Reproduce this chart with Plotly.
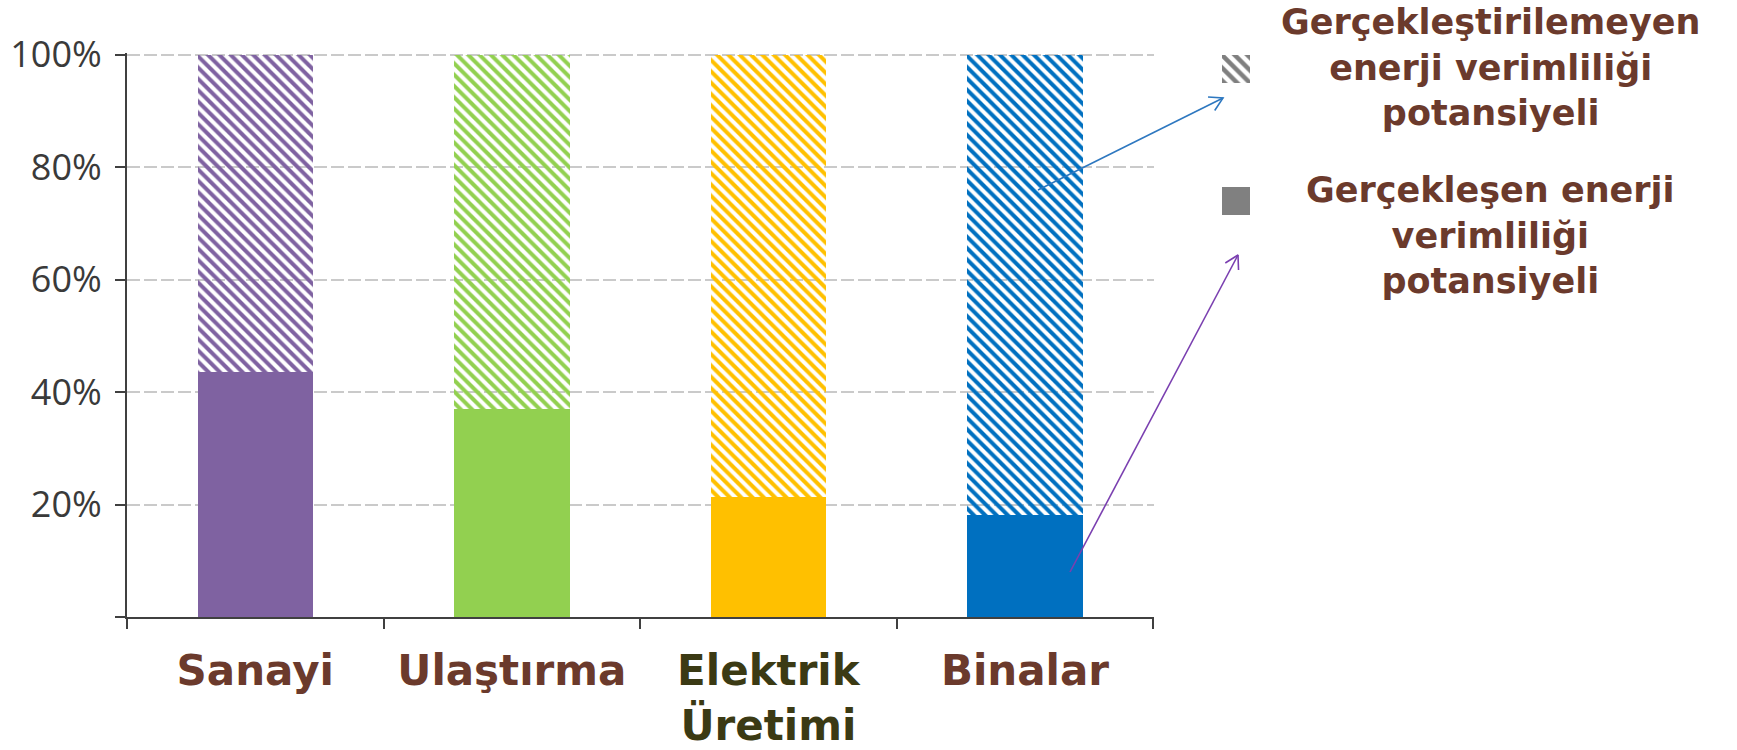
import math
import plotly.graph_objects as go

# ---- data ----
categories = ["Sanayi", "Ulaştırma", "Elektrik<br>Üretimi", "Binalar"]
category_colors_text = ["#6B3A2C", "#6B3A2C", "#3B3A14", "#6B3A2C"]
realized = [43.5, 37.0, 21.3, 18.1]          # Gerçekleşen (%)
total = [100, 100, 100, 100]
unrealized = [t - r for t, r in zip(total, realized)]
bar_colors = ["#7F62A1", "#92D050", "#FFC000", "#0070C0"]
stripe_bg = ["#F1ECF7", "#F1F9E8", "#FFF7DE", "#E6F1FA"]
y_tickvals = [0, 20, 40, 60, 80, 100]
y_ticktext = ["", "20%", "40%", "60%", "80%", "100%"]
legend_labels = ["Gerçekleştirilemeyen<br>enerji verimliliği<br>potansiyeli",
                 "Gerçekleşen enerji<br>verimliliği<br>potansiyeli"]

W, H = 1737, 750
PX0, PX1 = 127, 1154
PY0, PY1 = 53, 617

fig = go.Figure()

fig.add_trace(go.Bar(
    x=categories, y=realized, width=0.45,
    marker=dict(color=bar_colors, line=dict(width=0)),
    showlegend=False, hoverinfo="skip"))
fig.add_trace(go.Bar(
    x=categories, y=unrealized, width=0.45,
    marker=dict(color=bar_colors, line=dict(width=0),
                pattern=dict(shape="\\", bgcolor=stripe_bg,
                             fgopacity=1, size=8, solidity=0.5, fillmode="replace")),
    showlegend=False, hoverinfo="skip"))

# legend squares
fig.add_trace(go.Bar(x=[0], y=[1], width=1, xaxis="x2", yaxis="y2",
                     marker=dict(color="#7F7F7F", line=dict(width=0),
                                 pattern=dict(shape="\\", bgcolor="white",
                                              fgopacity=1, size=9, solidity=0.5,
                                              fillmode="replace")),
                     showlegend=False, hoverinfo="skip"))
fig.add_trace(go.Bar(x=[0], y=[1], width=1, xaxis="x3", yaxis="y3",
                     marker=dict(color="#808080", line=dict(width=0)),
                     showlegend=False, hoverinfo="skip"))

# arrows (decoration, pixel overlay)
def arrow(x0, y0, x1, y1, color):
    ang = math.atan2(y1 - y0, x1 - x0)
    L, a = 15, math.radians(30)
    hx1 = x1 - L * math.cos(ang - a); hy1 = y1 - L * math.sin(ang - a)
    hx2 = x1 - L * math.cos(ang + a); hy2 = y1 - L * math.sin(ang + a)
    fig.add_trace(go.Scatter(
        x=[x0, x1, None, hx1, x1, hx2], y=[y0, y1, None, hy1, y1, hy2],
        mode="lines", line=dict(color=color, width=1.6),
        xaxis="x4", yaxis="y4", showlegend=False, hoverinfo="skip"))

arrow(1038, 190, 1223, 98, "#2E78C0")
arrow(1070, 572, 1238, 255, "#7A3FB0")

fx = lambda px: px / W
fy = lambda py: 1 - py / H

fig.update_layout(
    width=W, height=H,
    margin=dict(l=0, r=0, t=0, b=0, autoexpand=False),
    paper_bgcolor="white", plot_bgcolor="rgba(0,0,0,0)",
    barmode="stack",
    xaxis=dict(domain=[fx(PX0), fx(PX1)], anchor="y", automargin=False,
               tickmode="array", tickvals=categories,
               ticktext=[f'<span style="color:{c}"><b>{t}</b></span>'
                         for t, c in zip(categories, category_colors_text)],
               tickfont=dict(family="DejaVu Sans", size=42, color="#6B3A2C"),
               ticks="outside", tickson="boundaries", ticklen=10, tickwidth=2,
               tickcolor="#404040", showline=True, linecolor="#404040", linewidth=2,
               showgrid=False, ticklabelstandoff=16, range=[-0.5, 3.503]),
    yaxis=dict(domain=[fy(PY1), fy(PY0)], anchor="x", range=[0, 100.3], automargin=False,
               tickmode="array", tickvals=y_tickvals, ticktext=y_ticktext,
               tickfont=dict(family="Open Sans", size=36, color="#3A3A3A"),
               ticks="outside", ticklen=10, tickwidth=2, tickcolor="#404040",
               showline=True, linecolor="#404040", linewidth=2,
               showgrid=True, gridcolor="#CACACA", gridwidth=2, griddash="13px,4px",
               zeroline=False, ticklabelstandoff=6),
    xaxis2=dict(domain=[fx(1222), fx(1250)], anchor="y2", range=[-0.5, 0.5], visible=False),
    yaxis2=dict(domain=[fy(83), fy(55)], anchor="x2", range=[0, 1], visible=False),
    xaxis3=dict(domain=[fx(1222), fx(1250)], anchor="y3", range=[-0.5, 0.5], visible=False),
    yaxis3=dict(domain=[fy(215), fy(187)], anchor="x3", range=[0, 1], visible=False),
    xaxis4=dict(domain=[0, 1], anchor="y4", range=[0, W], visible=False, fixedrange=True),
    yaxis4=dict(domain=[0, 1], anchor="x4", range=[H, 0], visible=False, fixedrange=True),
    annotations=[
        dict(xref="paper", yref="paper", x=fx(1490), y=fy(67), text=f"<b>{legend_labels[0]}</b>",
             showarrow=False, xanchor="center", yanchor="middle", align="center",
             font=dict(family="DejaVu Sans", size=35, color="#6B3A2C")),
        dict(xref="paper", yref="paper", x=fx(1490), y=fy(235), text=f"<b>{legend_labels[1]}</b>",
             showarrow=False, xanchor="center", yanchor="middle", align="center",
             font=dict(family="DejaVu Sans", size=35, color="#6B3A2C")),
    ],
)

fig.write_html("out.html")
